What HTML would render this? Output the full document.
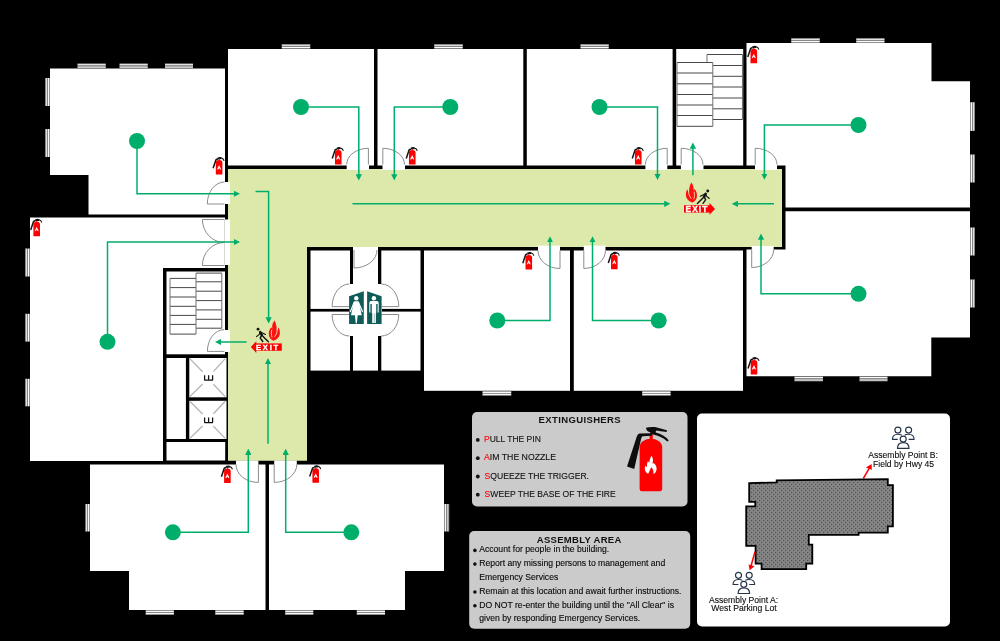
<!DOCTYPE html>
<html><head><meta charset="utf-8">
<style>
html,body{margin:0;padding:0;background:#000;width:1000px;height:641px;overflow:hidden}
svg{display:block;will-change:transform}
text{font-family:"Liberation Sans",sans-serif}
</style></head>
<body>
<svg width="1000" height="641" viewBox="0 0 1000 641">
<defs>
  <symbol id="ext" overflow="visible">
    <path d="M3.2,17.1 V5.9 Q3.2,3.1 6.5,3.1 Q9.8,3.1 9.8,5.9 V17.1 Q9.8,17.6 9.3,17.6 H3.7 Q3.2,17.6 3.2,17.1 Z" fill="#ff0000"/>
    <rect x="6" y="2.2" width="1.1" height="1.3" fill="#ff0000"/>
    <path d="M4.9,0.7 Q6.7,-0.3 8.7,0.3 L8.9,2.3 H5.2 Z" fill="#151515"/>
    <path d="M8.4,0.9 L10.2,1.8 Q11.1,2.5 11.5,3.9" stroke="#151515" stroke-width="1.1" fill="none"/>
    <path d="M5.4,2.2 Q3.8,2.2 3.3,3 L0.5,11.4" stroke="#151515" stroke-width="1.5" fill="none"/>
    <path d="M4.5,12.6 C4.8,11 6,9.4 6.5,8.1 C6.9,9.4 8.2,11 8.4,12.6 C7.6,12.7 7,12 6.5,11 C6,12 5.3,12.7 4.5,12.6 Z" fill="#fff"/>
  </symbol>
  <symbol id="flame" overflow="visible">
    <path d="M5.45,0 C7.5,3 8,5.2 7.6,8.2 C8,7.6 8.4,7.2 8.6,6.6 C10.4,8.4 11.2,11 11.1,13.6 C11,17.2 8.6,19.4 6.4,20.1 C2.6,19 0,16 0,12.4 C0,10 0.6,8.2 1.6,6.9 C1.8,8.8 2.6,10 3.2,10.4 C3,6.6 3.6,3 5.45,0 Z" fill="#ff1010"/>
    <path d="M2.6,7.8 C2.4,11 3.4,13.8 5.1,15.8" stroke="#dde9aa" stroke-width="0.9" fill="none" stroke-linecap="round"/>
    <path d="M8.2,9.6 C8.8,12 8.6,14.4 8,16.4" stroke="#dde9aa" stroke-width="0.9" fill="none" stroke-linecap="round"/>
  </symbol>
  <symbol id="man" overflow="visible">
    <circle cx="11.95" cy="1.8" r="1.4" fill="#111"/>
    <path d="M9.9,4.6 L8.2,7.6" stroke="#111" stroke-width="2.5" fill="none" stroke-linecap="round"/>
    <path d="M9.6,4.6 L7.6,5.6 L4.5,7.1" stroke="#111" stroke-width="1.1" fill="none" stroke-linecap="round"/>
    <path d="M9.8,5.4 L10.7,6.9 L13.5,9.3" stroke="#111" stroke-width="1.1" fill="none" stroke-linecap="round"/>
    <path d="M8.2,7.8 L1.6,14.3" stroke="#111" stroke-width="1.4" fill="none" stroke-linecap="round"/>
    <path d="M8.6,8.2 L9.8,10.6 L7.2,14.1" stroke="#111" stroke-width="1.4" fill="none" stroke-linecap="round"/>
  </symbol>
  <symbol id="exitsign" overflow="visible">
    <use href="#flame" x="1.9" y="-22.8"/>
    <use href="#man" x="11.8" y="-16"/>
    <rect x="0" y="0" width="26.5" height="7.4" fill="#ff0000"/>
    <path d="M25.5,-2.1 L31,3.7 L25.5,9.5 Z" fill="#ff0000"/>
  </symbol>
  <marker id="ah" viewBox="0 0 10 10" refX="3.65" refY="5" markerWidth="4.2" markerHeight="4.2" orient="auto" markerUnits="strokeWidth">
    <path d="M0,0 L10,5 L0,10 Z" fill="#00ae6b"/>
  </marker>
  <pattern id="dots" width="4" height="4" patternUnits="userSpaceOnUse">
    <rect width="4" height="4" fill="#888"/>
    <circle cx="1.6" cy="2.5" r="0.75" fill="#505050"/>
    <circle cx="3.6" cy="0.5" r="0.75" fill="#505050"/>
    <circle cx="-0.4" cy="0.5" r="0.75" fill="#505050"/>
    <circle cx="3.6" cy="4.5" r="0.75" fill="#505050"/>
    <circle cx="-0.4" cy="4.5" r="0.75" fill="#505050"/>
  </pattern>
</defs>

<rect width="1000" height="641" fill="#000"/>

<!-- ROOMS (white) -->
<g fill="#fff">
  <path d="M50,68.5 H225 V214.5 H88.5 V175 H50 Z"/>
  <rect x="228" y="49" width="146" height="116.5"/>
  <rect x="377.5" y="49" width="145.8" height="116.5"/>
  <rect x="526.8" y="49" width="145.8" height="116.5"/>
  <rect x="676.2" y="49" width="67" height="116.5"/>
  <path d="M746.5,43 H931.5 V81.3 H970 V207.5 H785.5 V165.5 H746.5 Z"/>
  <path d="M746.5,249.5 H785.5 V211.3 H970 V337.5 H931.3 V376.3 H746.5 Z"/>
  <path d="M30,217.5 H225 V268 H163 V461 H30 Z"/>
  <rect x="166.5" y="271.5" width="58.5" height="82.8"/>
  <rect x="166.5" y="358" width="19.4" height="81"/>
  <rect x="189.3" y="358" width="37.2" height="39.3"/>
  <rect x="189.3" y="400.8" width="37.2" height="38.2"/>
  <rect x="166.5" y="442" width="58.7" height="18.5"/>
  <!-- restrooms -->
  <rect x="310.5" y="250.5" width="39.5" height="58.4"/>
  <rect x="310.5" y="311.6" width="39.5" height="59"/>
  <rect x="381.3" y="250.5" width="39.2" height="58.4"/>
  <rect x="381.3" y="311.6" width="39.2" height="59"/>
  <rect x="353" y="246" width="25" height="124.6"/>
  <rect x="349" y="284" width="33" height="52"/>
  <rect x="424" y="250.5" width="146" height="140.3"/>
  <rect x="573.8" y="250.5" width="169.2" height="140.3"/>
  <path d="M90,464.4 H265.5 V610 H129 V571 H90 Z"/>
  <path d="M269,464.4 H444 V571 H405 V610 H269 Z"/>
</g>

<!-- CORRIDOR -->
<path d="M228,169 H782 V247 H307 V460.7 H228 Z" fill="#dde9aa"/>
<!-- door gaps (white) -->
<g fill="#fff">
  <rect x="346.7" y="165" width="22.3" height="5"/>
  <rect x="382.5" y="165" width="22.5" height="5"/>
  <rect x="645.4" y="165" width="21.9" height="5"/>
  <rect x="680.9" y="165" width="22.6" height="5"/>
  <rect x="755" y="165" width="22" height="5"/>
  <rect x="224.5" y="182" width="5.5" height="22"/>
  <rect x="224.5" y="219.5" width="5.5" height="45.5"/>
  <rect x="224.5" y="330" width="5.5" height="22"/>
  <rect x="538" y="245.6" width="22" height="5.4"/>
  <rect x="583.8" y="245.6" width="21.7" height="5.4"/>
  <rect x="751.7" y="246" width="22" height="4"/>
  <rect x="236" y="460.5" width="22.4" height="4.5"/>
  <rect x="274.2" y="460.5" width="22.6" height="4.5"/>
</g>

<!-- WINDOWS -->
<g id="wins">
<rect x="77.5" y="67.80" width="28.25" height="0.70" fill="#8f8f8f"/>
<rect x="77.5" y="66.30" width="28.25" height="1.50" fill="#fbfbfb"/>
<rect x="77.5" y="65.50" width="28.25" height="0.80" fill="#9c9c9c"/>
<rect x="77.5" y="64.00" width="28.25" height="1.50" fill="#e2e2e2"/>
<rect x="77.5" y="63.50" width="28.25" height="0.50" fill="#a8a8a8"/>
<rect x="119.5" y="67.80" width="28.25" height="0.70" fill="#8f8f8f"/>
<rect x="119.5" y="66.30" width="28.25" height="1.50" fill="#fbfbfb"/>
<rect x="119.5" y="65.50" width="28.25" height="0.80" fill="#9c9c9c"/>
<rect x="119.5" y="64.00" width="28.25" height="1.50" fill="#e2e2e2"/>
<rect x="119.5" y="63.50" width="28.25" height="0.50" fill="#a8a8a8"/>
<rect x="165" y="67.80" width="28.00" height="0.70" fill="#8f8f8f"/>
<rect x="165" y="66.30" width="28.00" height="1.50" fill="#fbfbfb"/>
<rect x="165" y="65.50" width="28.00" height="0.80" fill="#9c9c9c"/>
<rect x="165" y="64.00" width="28.00" height="1.50" fill="#e2e2e2"/>
<rect x="165" y="63.50" width="28.00" height="0.50" fill="#a8a8a8"/>
<rect x="281.75" y="48.21" width="28.50" height="0.69" fill="#8f8f8f"/>
<rect x="281.75" y="46.74" width="28.50" height="1.47" fill="#fbfbfb"/>
<rect x="281.75" y="45.96" width="28.50" height="0.78" fill="#9c9c9c"/>
<rect x="281.75" y="44.49" width="28.50" height="1.47" fill="#e2e2e2"/>
<rect x="281.75" y="44.00" width="28.50" height="0.49" fill="#a8a8a8"/>
<rect x="434.25" y="48.21" width="28.50" height="0.69" fill="#8f8f8f"/>
<rect x="434.25" y="46.74" width="28.50" height="1.47" fill="#fbfbfb"/>
<rect x="434.25" y="45.96" width="28.50" height="0.78" fill="#9c9c9c"/>
<rect x="434.25" y="44.49" width="28.50" height="1.47" fill="#e2e2e2"/>
<rect x="434.25" y="44.00" width="28.50" height="0.49" fill="#a8a8a8"/>
<rect x="580.5" y="48.21" width="28.25" height="0.69" fill="#8f8f8f"/>
<rect x="580.5" y="46.74" width="28.25" height="1.47" fill="#fbfbfb"/>
<rect x="580.5" y="45.96" width="28.25" height="0.78" fill="#9c9c9c"/>
<rect x="580.5" y="44.49" width="28.25" height="1.47" fill="#e2e2e2"/>
<rect x="580.5" y="44.00" width="28.25" height="0.49" fill="#a8a8a8"/>
<rect x="791.25" y="42.30" width="28.50" height="0.70" fill="#8f8f8f"/>
<rect x="791.25" y="40.80" width="28.50" height="1.50" fill="#fbfbfb"/>
<rect x="791.25" y="40.00" width="28.50" height="0.80" fill="#9c9c9c"/>
<rect x="791.25" y="38.50" width="28.50" height="1.50" fill="#e2e2e2"/>
<rect x="791.25" y="38.00" width="28.50" height="0.50" fill="#a8a8a8"/>
<rect x="856.25" y="42.30" width="28.25" height="0.70" fill="#8f8f8f"/>
<rect x="856.25" y="40.80" width="28.25" height="1.50" fill="#fbfbfb"/>
<rect x="856.25" y="40.00" width="28.25" height="0.80" fill="#9c9c9c"/>
<rect x="856.25" y="38.50" width="28.25" height="1.50" fill="#e2e2e2"/>
<rect x="856.25" y="38.00" width="28.25" height="0.50" fill="#a8a8a8"/>
<rect x="482.5" y="390.80" width="28.75" height="0.70" fill="#8f8f8f"/>
<rect x="482.5" y="391.50" width="28.75" height="1.50" fill="#fbfbfb"/>
<rect x="482.5" y="393.00" width="28.75" height="0.80" fill="#9c9c9c"/>
<rect x="482.5" y="393.80" width="28.75" height="1.50" fill="#f7f7f7"/>
<rect x="482.5" y="395.30" width="28.75" height="0.50" fill="#a8a8a8"/>
<rect x="642.2" y="390.80" width="28.40" height="0.70" fill="#8f8f8f"/>
<rect x="642.2" y="391.50" width="28.40" height="1.50" fill="#fbfbfb"/>
<rect x="642.2" y="393.00" width="28.40" height="0.80" fill="#9c9c9c"/>
<rect x="642.2" y="393.80" width="28.40" height="1.50" fill="#f7f7f7"/>
<rect x="642.2" y="395.30" width="28.40" height="0.50" fill="#a8a8a8"/>
<rect x="794.5" y="376.30" width="28.50" height="0.70" fill="#8f8f8f"/>
<rect x="794.5" y="377.00" width="28.50" height="1.50" fill="#fbfbfb"/>
<rect x="794.5" y="378.50" width="28.50" height="0.80" fill="#9c9c9c"/>
<rect x="794.5" y="379.30" width="28.50" height="1.50" fill="#f7f7f7"/>
<rect x="794.5" y="380.80" width="28.50" height="0.50" fill="#a8a8a8"/>
<rect x="859.5" y="376.30" width="28.00" height="0.70" fill="#8f8f8f"/>
<rect x="859.5" y="377.00" width="28.00" height="1.50" fill="#fbfbfb"/>
<rect x="859.5" y="378.50" width="28.00" height="0.80" fill="#9c9c9c"/>
<rect x="859.5" y="379.30" width="28.00" height="1.50" fill="#f7f7f7"/>
<rect x="859.5" y="380.80" width="28.00" height="0.50" fill="#a8a8a8"/>
<rect x="145.7" y="610.00" width="28.20" height="0.70" fill="#8f8f8f"/>
<rect x="145.7" y="610.70" width="28.20" height="1.50" fill="#fbfbfb"/>
<rect x="145.7" y="612.20" width="28.20" height="0.80" fill="#9c9c9c"/>
<rect x="145.7" y="613.00" width="28.20" height="1.50" fill="#f7f7f7"/>
<rect x="145.7" y="614.50" width="28.20" height="0.50" fill="#a8a8a8"/>
<rect x="215.3" y="610.00" width="28.40" height="0.70" fill="#8f8f8f"/>
<rect x="215.3" y="610.70" width="28.40" height="1.50" fill="#fbfbfb"/>
<rect x="215.3" y="612.20" width="28.40" height="0.80" fill="#9c9c9c"/>
<rect x="215.3" y="613.00" width="28.40" height="1.50" fill="#f7f7f7"/>
<rect x="215.3" y="614.50" width="28.40" height="0.50" fill="#a8a8a8"/>
<rect x="285.2" y="610.00" width="28.10" height="0.70" fill="#8f8f8f"/>
<rect x="285.2" y="610.70" width="28.10" height="1.50" fill="#fbfbfb"/>
<rect x="285.2" y="612.20" width="28.10" height="0.80" fill="#9c9c9c"/>
<rect x="285.2" y="613.00" width="28.10" height="1.50" fill="#f7f7f7"/>
<rect x="285.2" y="614.50" width="28.10" height="0.50" fill="#a8a8a8"/>
<rect x="356.8" y="610.00" width="28.20" height="0.70" fill="#8f8f8f"/>
<rect x="356.8" y="610.70" width="28.20" height="1.50" fill="#fbfbfb"/>
<rect x="356.8" y="612.20" width="28.20" height="0.80" fill="#9c9c9c"/>
<rect x="356.8" y="613.00" width="28.20" height="1.50" fill="#f7f7f7"/>
<rect x="356.8" y="614.50" width="28.20" height="0.50" fill="#a8a8a8"/>
<rect x="49.30" y="78" width="0.70" height="28.00" fill="#8f8f8f"/>
<rect x="47.80" y="78" width="1.50" height="28.00" fill="#fbfbfb"/>
<rect x="47.00" y="78" width="0.80" height="28.00" fill="#9c9c9c"/>
<rect x="45.50" y="78" width="1.50" height="28.00" fill="#e2e2e2"/>
<rect x="45.00" y="78" width="0.50" height="28.00" fill="#a8a8a8"/>
<rect x="49.30" y="129" width="0.70" height="28.00" fill="#8f8f8f"/>
<rect x="47.80" y="129" width="1.50" height="28.00" fill="#fbfbfb"/>
<rect x="47.00" y="129" width="0.80" height="28.00" fill="#9c9c9c"/>
<rect x="45.50" y="129" width="1.50" height="28.00" fill="#e2e2e2"/>
<rect x="45.00" y="129" width="0.50" height="28.00" fill="#a8a8a8"/>
<rect x="29.30" y="248.5" width="0.70" height="28.00" fill="#8f8f8f"/>
<rect x="27.80" y="248.5" width="1.50" height="28.00" fill="#fbfbfb"/>
<rect x="27.00" y="248.5" width="0.80" height="28.00" fill="#9c9c9c"/>
<rect x="25.50" y="248.5" width="1.50" height="28.00" fill="#e2e2e2"/>
<rect x="25.00" y="248.5" width="0.50" height="28.00" fill="#a8a8a8"/>
<rect x="29.30" y="313.8" width="0.70" height="27.80" fill="#8f8f8f"/>
<rect x="27.80" y="313.8" width="1.50" height="27.80" fill="#fbfbfb"/>
<rect x="27.00" y="313.8" width="0.80" height="27.80" fill="#9c9c9c"/>
<rect x="25.50" y="313.8" width="1.50" height="27.80" fill="#e2e2e2"/>
<rect x="25.00" y="313.8" width="0.50" height="27.80" fill="#a8a8a8"/>
<rect x="29.30" y="378.8" width="0.70" height="27.50" fill="#8f8f8f"/>
<rect x="27.80" y="378.8" width="1.50" height="27.50" fill="#fbfbfb"/>
<rect x="27.00" y="378.8" width="0.80" height="27.50" fill="#9c9c9c"/>
<rect x="25.50" y="378.8" width="1.50" height="27.50" fill="#e2e2e2"/>
<rect x="25.00" y="378.8" width="0.50" height="27.50" fill="#a8a8a8"/>
<rect x="89.33" y="504" width="0.67" height="27.50" fill="#8f8f8f"/>
<rect x="87.89" y="504" width="1.44" height="27.50" fill="#fbfbfb"/>
<rect x="87.12" y="504" width="0.77" height="27.50" fill="#9c9c9c"/>
<rect x="85.68" y="504" width="1.44" height="27.50" fill="#e2e2e2"/>
<rect x="85.20" y="504" width="0.48" height="27.50" fill="#a8a8a8"/>
<rect x="970.00" y="102.2" width="0.70" height="28.70" fill="#8f8f8f"/>
<rect x="970.70" y="102.2" width="1.50" height="28.70" fill="#fbfbfb"/>
<rect x="972.20" y="102.2" width="0.80" height="28.70" fill="#9c9c9c"/>
<rect x="973.00" y="102.2" width="1.50" height="28.70" fill="#e2e2e2"/>
<rect x="974.50" y="102.2" width="0.50" height="28.70" fill="#a8a8a8"/>
<rect x="970.00" y="154.5" width="0.70" height="28.00" fill="#8f8f8f"/>
<rect x="970.70" y="154.5" width="1.50" height="28.00" fill="#fbfbfb"/>
<rect x="972.20" y="154.5" width="0.80" height="28.00" fill="#9c9c9c"/>
<rect x="973.00" y="154.5" width="1.50" height="28.00" fill="#e2e2e2"/>
<rect x="974.50" y="154.5" width="0.50" height="28.00" fill="#a8a8a8"/>
<rect x="970.00" y="227.5" width="0.70" height="28.00" fill="#8f8f8f"/>
<rect x="970.70" y="227.5" width="1.50" height="28.00" fill="#fbfbfb"/>
<rect x="972.20" y="227.5" width="0.80" height="28.00" fill="#9c9c9c"/>
<rect x="973.00" y="227.5" width="1.50" height="28.00" fill="#e2e2e2"/>
<rect x="974.50" y="227.5" width="0.50" height="28.00" fill="#a8a8a8"/>
<rect x="970.00" y="279.5" width="0.70" height="28.00" fill="#8f8f8f"/>
<rect x="970.70" y="279.5" width="1.50" height="28.00" fill="#fbfbfb"/>
<rect x="972.20" y="279.5" width="0.80" height="28.00" fill="#9c9c9c"/>
<rect x="973.00" y="279.5" width="1.50" height="28.00" fill="#e2e2e2"/>
<rect x="974.50" y="279.5" width="0.50" height="28.00" fill="#a8a8a8"/>
<rect x="444.00" y="504" width="0.73" height="27.50" fill="#8f8f8f"/>
<rect x="444.73" y="504" width="1.56" height="27.50" fill="#fbfbfb"/>
<rect x="446.29" y="504" width="0.83" height="27.50" fill="#9c9c9c"/>
<rect x="447.12" y="504" width="1.56" height="27.50" fill="#e2e2e2"/>
<rect x="448.68" y="504" width="0.52" height="27.50" fill="#a8a8a8"/>
</g>

<!-- STAIRS -->
<g fill="none" stroke="#484848" stroke-width="1">
  <path d="M677,62.5 H712.8 M677,73 H712.8 M677,83.8 H712.8 M677,94.5 H712.8 M677,105 H712.8 M677,115.5 H712.8 M677,126.3 H712.8"/>
  <path d="M707,54.5 H742.5 M712.8,65.5 H742.5 M712.8,76.3 H742.5 M712.8,87 H742.5 M712.8,98 H742.5 M712.8,108.8 H742.5 M712.8,119.5 H742.5"/>
  <path d="M677,62.5 V126.3 M712.8,62.5 V126.3 M707,54.5 V62.5 M742.5,54.5 V119.5" stroke="#707070"/>
  <path d="M170,278.4 H196 M170,287.6 H196 M170,297 H196 M170,306.3 H196 M170,315.4 H196 M170,324.4 H196 M170,334.1 H196"/>
  <path d="M196,273.1 H221.8 M196,281.8 H221.8 M196,291.2 H221.8 M196,300.6 H221.8 M196,309.9 H221.8 M196,319.3 H221.8 M196,328.2 H221.8"/>
  <path d="M170,278.4 V334.1 M196,273.1 V334.1 M221.8,273.1 V328.2" stroke="#707070"/>
</g>
<!-- ELEVATORS -->
<g fill="none" stroke="#b4b4b4" stroke-width="1.3">
  <path d="M189.8,358.6 L202.6,371.8 M225.2,358.6 L213.4,371.6 M189.8,396.6 L202.6,384 M225.2,396.6 L213.4,384.2"/>
  <path d="M189.8,401.2 L202.6,414 M225.2,401.2 L213.4,413.8 M189.8,438.4 L202.6,426 M225.2,438.4 L213.4,426.2"/>
</g>
<g fill="none" stroke="#111" stroke-width="1.25">
  <path d="M204.3,380.2 H212.9 M204.6,375.2 V380.2 M208.6,375.2 V380.2 M212.6,375.2 V380.2"/>
  <path d="M204.3,422.6 H212.9 M204.6,417.6 V422.6 M208.6,417.6 V422.6 M212.6,417.6 V422.6"/>
</g>

<!-- DOOR ARCS -->
<g fill="none" stroke="#8c8c8c" stroke-width="1">
  <path d="M346.7,164.5 A21.7,16.2 0 0 1 368.4,148.3 V164.5"/>
  <path d="M382.8,164.5 V148.3 A21.7,16.2 0 0 1 404.5,164.5"/>
  <path d="M645.4,164.5 A21.8,16.2 0 0 1 667.2,148.3 V164.5"/>
  <path d="M681.2,164.5 V148.3 A21.8,16.2 0 0 1 703,164.5"/>
  <path d="M755.2,164.5 V148.3 A21.8,16.2 0 0 1 777,164.5"/>
  <path d="M224.5,182 A17.2,22 0 0 0 207.3,204 H224.5"/>
  <path d="M224.5,242.5 A22,23 0 0 1 202.4,219.5 H224.5"/>
  <path d="M202.4,265.5 A22,23 0 0 1 224.5,242.5"/>
  <path d="M202.4,265.5 H224.5"/>
  <path d="M224.5,219.5 V265.5" stroke="#d8d8d8"/>
  <path d="M224,329.7 A16.6,21.7 0 0 0 207.4,351.4 H224.5"/>
  <path d="M354,250 V268 A23,18 0 0 0 377,250"/>
  <path d="M349.3,284 A17.2,22.6 0 0 0 332.1,306.6 H349.3"/>
  <path d="M381.3,284 A17.5,22.6 0 0 1 398.8,306.6 H381.3"/>
  <path d="M349.3,314.5 H332.1 A17.2,21.5 0 0 0 349.3,336"/>
  <path d="M381.3,314.5 H398.8 A17.5,21.5 0 0 1 381.3,336"/>
  <path d="M538,250.5 A22,18 0 0 0 560,268.5 V250.5"/>
  <path d="M583.8,250.5 V268.5 A22,18 0 0 0 605.5,250.5"/>
  <path d="M751.7,249.5 V267.5 A22,18 0 0 0 773.7,249.5"/>
  <path d="M236,464.4 A22,18 0 0 0 258.4,482.4 V464.4"/>
  <path d="M274.2,464.4 V482.4 A22.6,18 0 0 0 296.8,464.4"/>
</g>

<!-- EVACUATION ARROWS -->
<g fill="none" stroke="#00ae6b" stroke-width="1.5" marker-end="url(#ah)">
  <path d="M137,141 V193.8 H236"/>
  <path d="M107.5,341.8 V242.1 H236"/>
  <path d="M301,107 H358.8 V176.5"/>
  <path d="M450.3,107 H394.3 V176.5"/>
  <path d="M599.5,107 H657.5 V176"/>
  <path d="M692.9,175.2 V146.4"/>
  <path d="M858.5,125 H764.4 V175.8"/>
  <path d="M774,203.8 H735.8"/>
  <path d="M858.5,293.8 H761 V237.5"/>
  <path d="M352.5,203.8 H666.5"/>
  <path d="M255.5,191.6 H268.6 V319.6"/>
  <path d="M246.6,342 H218.9"/>
  <path d="M268,443.8 V362"/>
  <path d="M497.3,320.5 H550 V240.2"/>
  <path d="M658.7,320.5 H592.5 V240.2"/>
  <path d="M172.9,532.3 H248.3 V452.6"/>
  <path d="M351.3,532.3 H285.7 V452.6"/>
</g>
<g fill="#00ae6b">
  <circle cx="137" cy="141" r="8"/>
  <circle cx="107.5" cy="341.8" r="8"/>
  <circle cx="301" cy="107" r="8"/>
  <circle cx="450.3" cy="107" r="8"/>
  <circle cx="599.5" cy="107" r="8"/>
  <circle cx="858.5" cy="125" r="8"/>
  <circle cx="858.5" cy="293.8" r="8"/>
  <circle cx="497.3" cy="320.5" r="8"/>
  <circle cx="658.7" cy="320.5" r="8"/>
  <circle cx="172.9" cy="532.3" r="8"/>
  <circle cx="351.3" cy="532.3" r="8"/>
</g>

<!-- EXTINGUISHERS (small) -->
<use href="#ext" x="331.75" y="147"/>
<use href="#ext" x="405.75" y="147"/>
<use href="#ext" x="212.6" y="156.9"/>
<use href="#ext" x="631.75" y="147"/>
<use href="#ext" x="747.3" y="45.6"/>
<use href="#ext" x="30.2" y="218.6"/>
<use href="#ext" x="522.3" y="251.8"/>
<use href="#ext" x="607.8" y="251.6"/>
<use href="#ext" x="747.5" y="357"/>
<use href="#ext" x="220.9" y="465.4"/>
<use href="#ext" x="309.2" y="465.2"/>

<!-- EXIT SIGNS -->
<g transform="translate(684,205.2)">
  <use href="#exitsign"/>
</g>
<text x="685.5" y="211.9" font-size="8.3" font-weight="bold" fill="#fff" stroke="#fff" stroke-width="0.35" letter-spacing="1.15">EXIT</text>
<g transform="translate(281.8,343.4) scale(-1,1)">
  <use href="#exitsign"/>
</g>
<text x="256.1" y="349.9" font-size="7.4" font-weight="bold" fill="#fff" stroke="#fff" stroke-width="0.4" letter-spacing="1.85">EXIT</text>

<!-- RESTROOM SIGN -->
<g>
  <path d="M349.1,296.2 L363.8,291.2 V324.1 H349.1 Z" fill="#0e5b58"/>
  <path d="M367.1,291.2 L381.6,296.2 V324.1 H367.1 Z" fill="#0e5b58"/>
  <g fill="#fff">
    <circle cx="356.3" cy="298.3" r="2.2"/>
    <path d="M354.6,301.3 H358.1 Q358.7,301.3 358.9,301.9 L361.8,315.2 H351 L353.8,301.9 Q354,301.3 354.6,301.3 Z"/>
    <path d="M354.9,315 H357.7 L356.9,323.2 H355.7 Z"/>
    <path d="M354.2,302.2 L350.4,311.6 M358.4,302.2 L362.4,311.6" stroke="#fff" stroke-width="1.2" stroke-linecap="round"/>
    <circle cx="373.9" cy="298.3" r="2.2"/>
    <path d="M371,301.1 H376.8 Q378.7,301.1 378.7,303 V312.6 H377.6 V304.2 H377.4 V303.9 H376.2 V313.2 H375.9 V323 H374.3 V313.4 H373.9 V323 H372.2 V313.2 H371.8 V303.9 H370.6 V304.2 H370.4 V312.6 H369.3 V303 Q369.3,301.1 371,301.1 Z"/>
  </g>
</g>

<!-- EXTINGUISHER BOX -->
<rect x="472" y="412" width="215.5" height="94.5" rx="5" fill="#cbcbcb"/>
<text x="538.6" y="423" font-size="9.5" font-weight="bold" fill="#111" letter-spacing="0.37">EXTINGUISHERS</text>
<g fill="#111">
  <circle cx="477.8" cy="439.9" r="1.9"/>
  <circle cx="477.8" cy="458.2" r="1.9"/>
  <circle cx="477.8" cy="476.5" r="1.9"/>
  <circle cx="477.8" cy="494.7" r="1.9"/>
</g>
<g font-size="9.9" fill="#111" stroke="#111" stroke-width="0.12">
  <text x="484" y="441.8" textLength="56.8" lengthAdjust="spacingAndGlyphs"><tspan fill="#ff0000" stroke="#ff0000">P</tspan>ULL THE PIN</text>
  <text x="484" y="459.8" textLength="72" lengthAdjust="spacingAndGlyphs"><tspan fill="#ff0000" stroke="#ff0000">A</tspan>IM THE NOZZLE</text>
  <text x="484.6" y="478.7" textLength="104.4" lengthAdjust="spacingAndGlyphs"><tspan fill="#ff0000" stroke="#ff0000">S</tspan>QUEEZE THE TRIGGER.</text>
  <text x="484.6" y="496.7" textLength="131.2" lengthAdjust="spacingAndGlyphs"><tspan fill="#ff0000" stroke="#ff0000">S</tspan>WEEP THE BASE OF THE FIRE</text>
</g>
<!-- big extinguisher -->
<g>
  <path d="M639.6,489 V447 A11.3,8.2 0 0 1 662.2,447 V489 Q662.2,491.2 660,491.2 H641.8 Q639.6,491.2 639.6,489 Z" fill="#ff0000"/>
  <rect x="649.6" y="434.5" width="3.2" height="5" fill="#ff0000"/>
  <path d="M651.6,433.2 L639.4,433.6 Q637.6,434 636.8,436.6 L627,466.6 L634.2,469 L641.2,438.4 Q641.6,436.3 643,436.2 L651.8,435.8 Z" fill="#0d0d0d"/>
  <path d="M646,427.8 Q649,426.6 655,427 L667,430.2 L666.6,432 Q660,431.4 656.6,430.6 Q655.2,431.6 655.8,432.4 Q664,434.2 668.8,440.4 L667.2,441.4 Q661,436 653,434.6 L650.4,434.6 Q651.4,432.6 649.6,432 Q646.2,431.2 646,427.8 Z" fill="#0d0d0d"/>
  <path d="M651.6,455.8 C653.4,458.6 653.2,461.4 652.4,463.6 C653.6,463 654.2,463.6 654.6,463.8 C656.8,466.4 657.4,469.6 655.6,472.2 C654.8,473.2 654,473.8 653.4,473.8 C653.8,471.4 653,468.8 651.2,467.2 C650.2,469 649.6,471.4 648.2,473.8 C646,473 644.6,470.6 644.8,468 C645,467 645.2,466 645.2,465.4 C646,466.4 646.6,466.8 647,467 C646.8,464.8 647.2,462.6 648,461 C648.6,462 649,462.6 649.4,463 C649.4,460.4 650.2,457.8 651.6,455.8 Z" fill="#fff"/>
</g>

<!-- ASSEMBLY BOX -->
<rect x="469.2" y="531" width="221" height="97.8" rx="5" fill="#cbcbcb"/>
<text x="536.8" y="542.8" font-size="9.5" font-weight="bold" fill="#111" letter-spacing="0.3">ASSEMBLY AREA</text>
<g fill="#111">
  <circle cx="474.9" cy="550.4" r="1.8"/>
  <circle cx="474.9" cy="564.1" r="1.8"/>
  <circle cx="474.9" cy="592" r="1.8"/>
  <circle cx="474.9" cy="605.7" r="1.8"/>
</g>
<g font-size="8.64" fill="#0a0a0a" stroke="#0a0a0a" stroke-width="0.12">
  <text x="479.2" y="552.1">Account for people in the building.</text>
  <text x="479.2" y="566.2">Report any missing persons to management and</text>
  <text x="479.2" y="579.6">Emergency Services</text>
  <text x="479.2" y="593.7">Remain at this location and await further instructions.</text>
  <text x="479.2" y="607.8">DO NOT re-enter the building until the "All Clear" is</text>
  <text x="479.2" y="620.8">given by responding Emergency Services.</text>
</g>

<!-- MAP BOX -->
<rect x="697" y="413.5" width="253" height="213" rx="5" fill="#fff"/>
<path d="M749.2,483.2 L776.7,482.4 V480.3 L887.8,479.1 V485.1 H892.9 V526.3 H887.8 V532.7 H858.6 V534.9 H808.8 V544.7 H812.3 V563.6 H806.2 V569.2 H761.6 V563.6 H755.6 V545.9 H746.2 V506.4 H755.3 V501.8 H749.2 Z" fill="url(#dots)" stroke="#000" stroke-width="1.8" stroke-linejoin="miter"/>
<g stroke="#ff0000" stroke-width="1.5" fill="none">
  <path d="M863.3,478.5 L869.5,467.8"/>
  <path d="M755,551.6 L751,566"/>
</g>
<path d="M871.6,464.1 L871.9,469.8 L865.9,467.4 Z" fill="#ff0000"/>
<path d="M749.6,570.3 L748.5,564.5 L754.5,566.3 Z" fill="#ff0000"/>
<symbol id="ppl" overflow="visible">
  <g fill="none" stroke="#253347" stroke-width="1.15">
    <circle cx="897.9" cy="430.1" r="3"/>
    <path d="M897.8,439.3 H892.5 Q892.3,434.4 897.9,434.3 Q900.6,434.3 901.8,435.2"/>
    <circle cx="908.6" cy="430.1" r="3"/>
    <path d="M908.6,439.3 H914 Q914.2,434.4 908.6,434.3 Q905.9,434.3 904.6,435.2"/>
    <circle cx="903.2" cy="439.1" r="3"/>
    <path d="M897.5,448.3 H909 Q909,442.6 903.2,442.6 Q897.5,442.6 897.5,448.3 Z"/>
  </g>
</symbol>
<use href="#ppl"/>
<use href="#ppl" transform="translate(-159.4,145.2)"/>
<g font-size="8.6" fill="#0a0a0a" stroke="#0a0a0a" stroke-width="0.1" text-anchor="middle">
  <text x="903.1" y="458.1">Assembly Point B:</text>
  <text x="903.6" y="466.9">Field by Hwy 45</text>
  <text x="743.6" y="602.6">Assembly Point A:</text>
  <text x="744" y="611.3">West Parking Lot</text>
</g>

</svg>
</body></html>
